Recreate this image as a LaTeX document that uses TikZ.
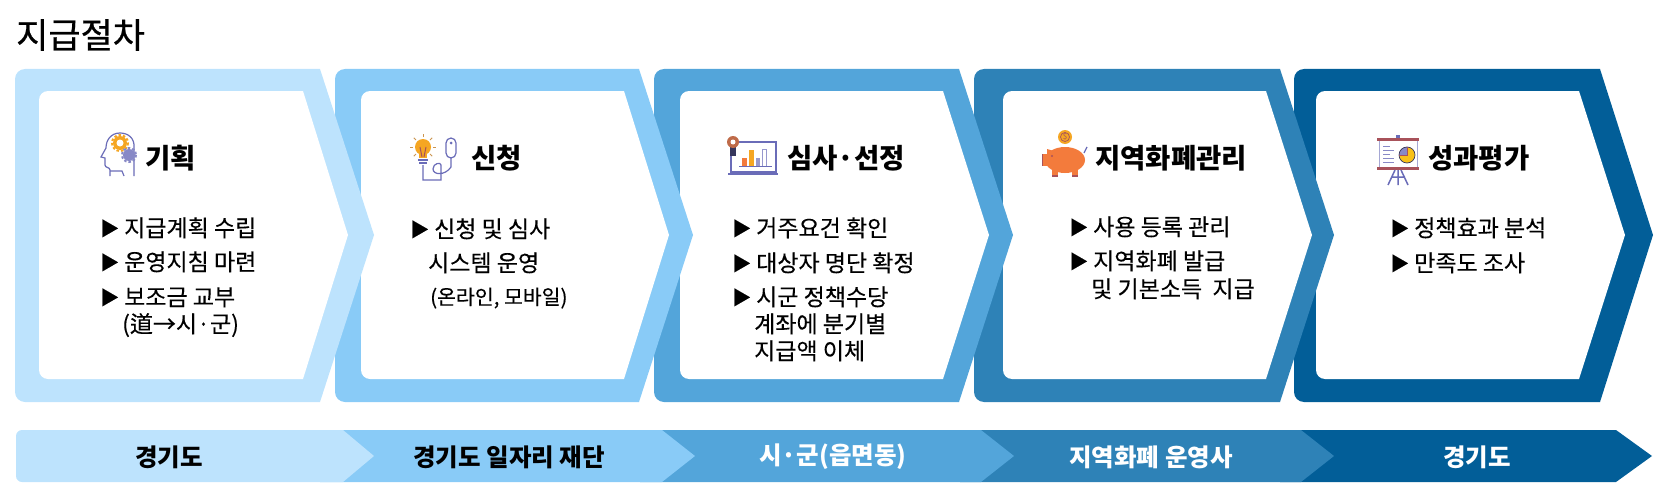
\documentclass[tikz,border=0pt]{standalone}
\usepackage{fontspec}
\setmainfont{Noto Sans CJK KR}
\newfontfamily\krmed[FakeBold=0.25]{Noto Sans CJK KR}
\newfontfamily\krtitle[FakeBold=0.7]{Noto Sans CJK KR}
\usetikzlibrary{positioning}
\definecolor{stepa}{HTML}{BDE3FD}
\definecolor{stepb}{HTML}{89CBF7}
\definecolor{stepc}{HTML}{53A5DA}
\definecolor{stepd}{HTML}{2E82B7}
\definecolor{stepe}{HTML}{025E98}
\definecolor{iconline}{HTML}{6A6CB8}
\definecolor{iconorange}{HTML}{F5A623}
\definecolor{iconpig}{HTML}{F37B3C}
\definecolor{iconred}{HTML}{A8525A}
\tikzset{
	titletext/.style={anchor=west, inner sep=0, font=\fontsize{35}{39}\selectfont\krtitle},
	headtext/.style={anchor=west, inner sep=0, font=\fontsize{27.5}{31}\selectfont\bfseries},
	bodytext/.style={anchor=west, inner sep=0, text height=17pt, text depth=4pt, font=\fontsize{23}{27}\selectfont\krmed},
	smalltext/.style={bodytext, font=\fontsize{20.5}{24}\selectfont\krmed},
	bartext/.style={inner sep=0, font=\fontsize{24.5}{28}\selectfont\bfseries},
	iconstroke/.style={draw=iconline, line width=1.2pt}
}
\newcommand{\bul}{\makebox[24pt][l]{\raisebox{1pt}{\fontsize{19}{22}\selectfont ▶}}}
\newcommand{\gearicon}[4]{%
	\fill[#4] (#1,#2) circle (#3);
	\draw[#4, line width=2pt, dash pattern=on 2.5pt off 2pt] (#1,#2) circle (#3+1);
}
\begin{document}
\begin{tikzpicture}[x=1pt,y=-1pt]
		\useasboundingbox (0,0) rectangle (1665,503);
		\node (title) [titletext] at (16,35) {지급절차};
		
		%step shapes, last one first
		\fill[stepe] (1600,69) -- (1653,235) -- (1600,402) [rounded corners=10pt] -- (1294,402) -- (1294,69) [sharp corners] -- (1600,69) -- cycle;
		\fill[white] (1579,91) -- (1625,235) -- (1579,379) [rounded corners=9pt] -- (1316,379) -- (1316,91) [sharp corners] -- (1579,91) -- cycle;
		\fill[stepd] (1280,69) -- (1334,235) -- (1280,402) [rounded corners=10pt] -- (974,402) -- (974,69) [sharp corners] -- (1280,69) -- cycle;
		\fill[white] (1266,91) -- (1312,235) -- (1266,379) [rounded corners=9pt] -- (1003,379) -- (1003,91) [sharp corners] -- (1266,91) -- cycle;
		\fill[stepc] (959,69) -- (1013,235) -- (959,402) [rounded corners=10pt] -- (654,402) -- (654,69) [sharp corners] -- (959,69) -- cycle;
		\fill[white] (943,91) -- (989,235) -- (943,379) [rounded corners=9pt] -- (680,379) -- (680,91) [sharp corners] -- (943,91) -- cycle;
		\fill[stepb] (639,69) -- (693,235) -- (639,402) [rounded corners=10pt] -- (335,402) -- (335,69) [sharp corners] -- (639,69) -- cycle;
		\fill[white] (624,91) -- (669,235) -- (624,379) [rounded corners=9pt] -- (361,379) -- (361,91) [sharp corners] -- (624,91) -- cycle;
		\fill[stepa] (320,69) -- (374,235) -- (320,402) [rounded corners=10pt] -- (15,402) -- (15,69) [sharp corners] -- (320,69) -- cycle;
		\fill[white] (303,91) -- (348,235) -- (303,379) [rounded corners=9pt] -- (39,379) -- (39,91) [sharp corners] -- (303,91) -- cycle;
		
		%bottom bar
		\fill[stepe] (1616,430) -- (1652,456) -- (1616,482) -- (1280,482) -- (1280,430) -- cycle;
		\fill[stepd] (1301,430) -- (1334,456) -- (1301,482) -- (960,482) -- (960,430) -- cycle;
		\fill[stepc] (981,430) -- (1014,456) -- (981,482) -- (640,482) -- (640,430) -- cycle;
		\fill[stepb] (662,430) -- (695,456) -- (662,482) -- (320,482) -- (320,430) -- cycle;
		\fill[stepa] (343,430) -- (374,456) -- (343,482) [rounded corners=6pt] -- (16,482) -- (16,430) [sharp corners] -- (343,430) -- cycle;
		\node (b1) [bartext] at (169,457) {경기도};
		\node (b2) [bartext] at (509,457) {경기도 일자리 재단};
		\node (b3) [bartext, text=white] at (833,457) {시·군(읍면동)};
		\node (b4) [bartext, text=white] at (1151,457) {지역화폐 운영사};
		\node (b5) [bartext, text=white] at (1477,457) {경기도};
		
		%planning
		\node (h1) [headtext] at (145,158) {기획};
		\node (p11) [bodytext] at (100,230) {\bul 지급계획 수립};
		\node (p12) [below=34pt of p11.west, bodytext] {\bul 운영지침 마련};
		\node (p13) [below=35pt of p12.west, bodytext] {\bul 보조금 교부};
		\node (p14) [smalltext, font=\fontsize{23}{27}\selectfont\krmed] at (122,326) {(道→시·군)};
		
		%application
		\node (h2) [headtext] at (471,158) {신청};
		\node (p21) [bodytext] at (410,231) {\bul 신청 및 심사};
		\node (p22) [bodytext] at (428,265) {시스템 운영};
		\node (p23) [smalltext] at (430,298) {(온라인, 모바일)};
		
		%review
		\node (h3) [headtext] at (787,158) {심사·선정};
		\node (p31) [bodytext] at (732,230) {\bul 거주요건 확인};
		\node (p32) [below=35pt of p31.west, bodytext] {\bul 대상자 명단 확정};
		\node (p33) [below=34pt of p32.west, bodytext] {\bul 시군 정책수당};
		\node (p34) [bodytext] at (754,326) {계좌에 분기별};
		\node (p35) [below=27pt of p34.west, bodytext] {지급액 이체};
		
		%currency
		\node (h4) [headtext] at (1095,158) {지역화폐관리};
		\node (p41) [bodytext] at (1069,229) {\bul 사용 등록 관리};
		\node (p42) [below=34pt of p41.west, bodytext] {\bul 지역화폐 발급};
		\node (p43) [bodytext] at (1091,291) {및 기본소득~~지급};
		
		%evaluation
		\node (h5) [headtext] at (1428,158) {성과평가};
		\node (p51) [bodytext] at (1390,230) {\bul 정책효과 분석};
		\node (p52) [below=35pt of p51.west, bodytext] {\bul 만족도 조사};
		
		%head icon
		\draw[iconstroke] (134,176) -- (134,148) .. controls (135,138) and (128,133) .. (120,133) .. controls (111,133) and (106,140) .. (106,148) -- (101,157) -- (105,158) -- (105,165) .. controls (105,168) and (110,167) .. (110,170) -- (110,176);
		\draw[iconstroke] (110,171) -- (122,171) -- (124,176);
		\gearicon{120}{143}{7}{iconorange}
		\fill[white] (120,143) circle (3.5);
		\gearicon{129}{155}{6}{iconline!80}
		
		%bulb icon
		\foreach \a in {0,45,135,180,225,315,270}
			\draw[iconorange!70!iconline, line width=1pt] (423,147) ++(\a:10) -- ++(\a:3);
		\fill[iconorange] (423,147) circle (8);
		\fill[iconorange] (419,151) rectangle (427,158);
		\draw[iconred, line width=1pt] (420,147) -- (422,157) (426,147) -- (424,157);
		\draw[iconline, line width=2.5pt] (418,160) -- (428,160) (419,163) -- (427,163);
		\draw[iconstroke] (423,165) -- (423,180) -- (441,180) -- (441,165) .. controls (441,162) and (433,163) .. (433,169) .. controls (433,175) and (445,176) .. (451,167) -- (451,157);
		\draw[iconstroke, rounded corners=5pt] (446,138) rectangle (456,158);
		\fill[iconline] (451,143) circle (1.5);
		
		%laptop icon
		\draw[iconline, line width=1.6pt] (731,142) rectangle (776,172);
		\draw[iconline, line width=2.5pt] (728,174) -- (778,174);
		\fill[iconpig] (742,158) rectangle (747,166);
		\fill[iconorange] (749,150) rectangle (754,166);
		\fill[iconline!70] (756,158) rectangle (760,166);
		\draw[iconline!70, line width=0.8pt] (762,149) rectangle (766,166);
		\draw[iconline, line width=0.6pt] (739,166) -- (772,166);
		\fill[iconline!50!black] (730,146) rectangle (736,156);
		\fill[iconred!70!iconorange] (733,142) circle (6);
		\fill[white] (733,142) circle (2.5);
		
		%pig icon
		\fill[iconpig] (1065,160) ellipse (20 and 13);
		\fill[iconpig] (1047,156) -- (1047,149) -- (1057,152) -- cycle;
		\fill[iconpig] (1042,154) rectangle (1050,166);
		\fill[iconpig] (1052,168) rectangle (1058,176);
		\fill[iconpig] (1072,168) rectangle (1078,176);
		\fill[iconred] (1052,156) circle (1.2);
		\draw[iconred, line width=1pt] (1042,154) -- (1042,166);
		\draw[iconred, line width=1.5pt] (1052,176) -- (1058,176) (1072,176) -- (1078,176);
		\draw[iconline, line width=1.2pt] (1084,153) -- (1087,147);
		\fill[iconorange] (1065,137) circle (7);
		\draw[iconred, line width=0.7pt] (1065,137) circle (4.5);
		\node (coin) [inner sep=0, font=\fontsize{8}{8}\selectfont, text=iconred] at (1065,137) {\$};
		
		%board icon
		\fill[iconline] (1396,135) rectangle (1400,139);
		\draw[iconline!60, line width=1pt] (1379,139) rectangle (1417,167);
		\draw[iconred, line width=3pt] (1377,139) -- (1419,139) (1377,168) -- (1419,168);
		\draw[iconline!80, line width=1pt] (1383,146) -- (1390,146) (1383,150) -- (1394,150) (1383,154) -- (1390,154) (1383,158) -- (1394,158) (1383,162) -- (1394,162);
		\fill[iconorange!70!yellow] (1407,155) circle (8);
		\fill[iconline!80] (1407,155) -- (1407,147) arc[start angle=270, end angle=180, radius=8] -- cycle;
		\draw[iconline!50!black, line width=0.7pt] (1407,155) circle (8);
		\draw[iconred, line width=0.8pt] (1399,155) -- (1407,155) -- (1407,147);
		\draw[iconline, line width=1.5pt] (1395,170) -- (1388,185) (1398,170) -- (1398,185) (1401,170) -- (1408,185) (1391,177) -- (1405,177);
\end{tikzpicture}
\end{document}
